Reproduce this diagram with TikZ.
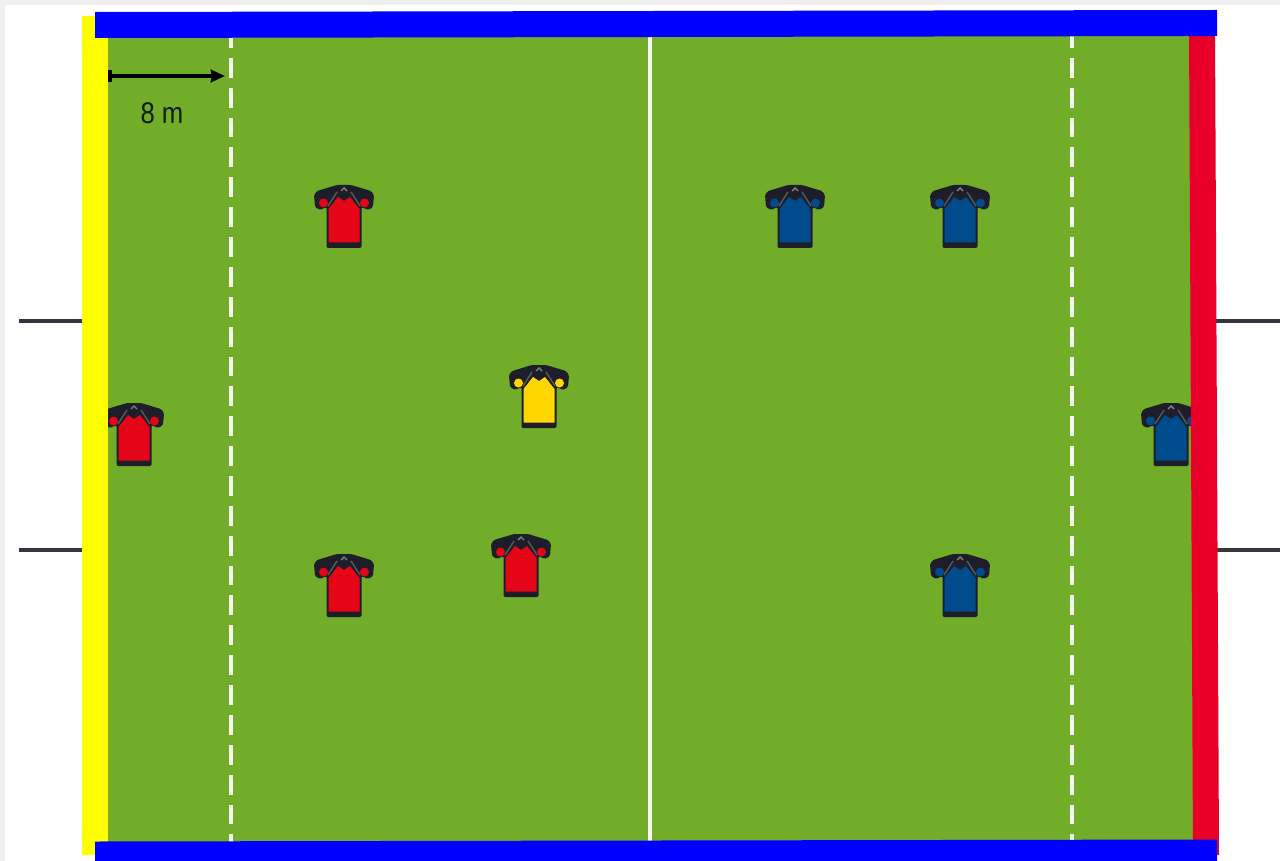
\documentclass[tikz,border=0pt]{standalone}
\usepackage{xcolor}
\usepackage{fontspec}
\setmainfont{Liberation Sans}
\usetikzlibrary{arrows.meta}
\definecolor{mygreen}{RGB}{113,173,41}
\definecolor{myblue}{RGB}{0,0,255}
\definecolor{myyellow}{RGB}{255,255,0}
\definecolor{myred}{RGB}{232,0,40}
\definecolor{mydark}{RGB}{30,30,42}
\definecolor{mygrey}{RGB}{240,240,240}
\definecolor{shirtred}{RGB}{228,6,22}
\definecolor{shirtblue}{RGB}{0,75,140}
\definecolor{shirtyellow}{RGB}{255,214,0}
\tikzset{
  pitchline/.style={color=white!92!mygreen, line width=1.8pt},
  goalline/.style={color=mydark!90, line width=2.3pt},
  pics/shirt/.style={code={
    \fill[mydark, rounded corners=0.8pt] (-7,0) -- (7,0) -- (27,6) -- (30,10) -- (29,22) -- (24,25) -- (17.5,22)
      -- (17.5,63) -- (-17.5,63) -- (-17.5,22) -- (-24,25) -- (-29,22) -- (-30,10) -- (-27,6) -- cycle;
    \fill[#1] (-15.5,57.5) -- (15.5,57.5) -- (15.5,24) -- (6,12) -- (0,16) -- (-6,12) -- (-15.5,24) -- cycle;
    \fill[#1] (-20.5,18) circle (4.5);
    \fill[#1] (20.5,18) circle (4.5);
    \draw[gray, line width=0.8pt] (-3,6) -- (0,3) -- (3,6);
    \draw[gray!70!black, line width=0.8pt] (-7,7) -- (-16,21);
    \draw[gray!70!black, line width=0.8pt] (7,7) -- (16,21);
  }}
}

\begin{document}
\begin{tikzpicture}[x=0.02cm, y=-0.02cm]
  \useasboundingbox (0,0) rectangle (1280,861);
  % Page
  \fill[mygrey] (0,0) rectangle (1280,861);
  \fill[white] (5,5.5) rectangle (1280,861);

  % Goal lines
  \draw[goalline] (19,321) -- (90,321);
  \draw[goalline] (19,550) -- (90,550);
  \draw[goalline] (1210,321) -- (1280,321);
  \draw[goalline] (1210,550) -- (1280,550);

  % Pitch
  \fill[mygreen] (100,30) rectangle (1200,845);
  \draw[pitchline] (650,30) -- (650,845);
  \draw[pitchline, dash pattern=on 11.3pt off 5.7pt] (231,28) -- (231,845);
  \draw[pitchline, dash pattern=on 11.3pt off 5.7pt] (1072,28) -- (1072,845);

  % Red team
  \pic (r1) at (344,185) {shirt=shirtred};
  \pic (r2) at (134,403) {shirt=shirtred};
  \pic (r3) at (344,554) {shirt=shirtred};
  \pic (r4) at (521,534) {shirt=shirtred};

  % Referee
  \pic (ref) at (539,365) {shirt=shirtyellow};

  % Blue team
  \pic (b1) at (795,185) {shirt=shirtblue};
  \pic (b2) at (960,185) {shirt=shirtblue};
  \pic (b3) at (960,554) {shirt=shirtblue};
  \pic (b4) at (1171,403) {shirt=shirtblue};

  % Borders
  \fill[myyellow] (82,16) rectangle (108,855);
  \fill[myred] (1189,30) -- (1215,30) -- (1219,855) -- (1193,855) -- cycle;
  \fill[myblue] (95,12) -- (1217,10) -- (1217,36) -- (95,38) -- cycle;
  \fill[myblue] (95,841.5) -- (1217,839.5) -- (1217,861) -- (95,861) -- cycle;

  % Distance
  \coordinate (m0) at (108,76);
  \coordinate (m1) at (225,76);
  \draw[{Bar[width=6.5pt]}-{Stealth[length=8pt,width=7pt,inset=0.5pt]}, color=black, line width=2pt] (m0) -- (m1);
  \node[font=\fontsize{17}{20}\selectfont, color=black!85!mygreen, xscale=0.86] (dist) at (162,113) {8 m};
\end{tikzpicture}
\end{document}
